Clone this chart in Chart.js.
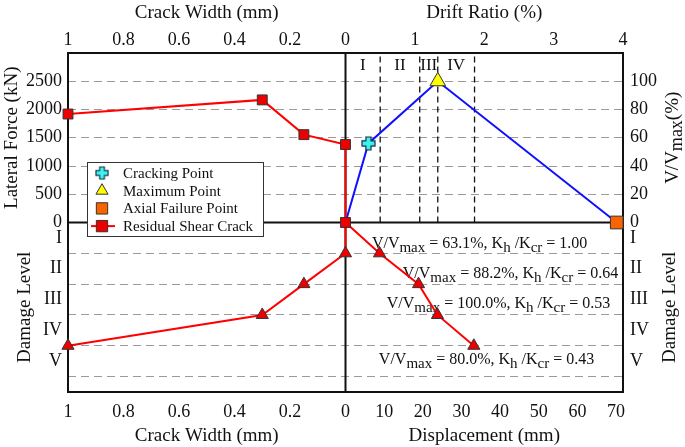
<!DOCTYPE html>
<html>
<head>
<meta charset="utf-8">
<script src="https://cdn.jsdelivr.net/npm/chart.js@4.4.1/dist/chart.umd.min.js"></script>
<style>
  html, body { margin: 0; padding: 0; background: #fff; }
</style>
</head>
<body>
<canvas id="chart" width="685" height="447"></canvas>
<script>
// ---- Tick labels ----
const crackTicks = [1, 0.8, 0.6, 0.4, 0.2, 0];
const driftTicks = [1, 2, 3, 4];
const dispTicks = [10, 20, 30, 40, 50, 60, 70];
const forceTicks = [0, 500, 1000, 1500, 2000, 2500];
const ratioTicks = [0, 20, 40, 60, 80, 100];
const damageLabels = ['I', 'II', 'III', 'IV', 'V'];

// ---- Series ----
// capacity curve (drift %, V/Vmax %)
const capDrift = [0, 0.33, 1.33, 3.91];
const capRatio = [0, 56, 100, 0];
const crackDrift = [0.33], crackRatio = [56];
const maxDrift = [1.33], maxRatio = [100];
const axialDrift = [3.91], axialRatio = [0];
// residual shear crack width vs lateral force
const resWidth = [1, 0.3, 0.15, 0, 0];
const resForce = [1920, 2170, 1555, 1380, 0];
// crack width vs damage level
const dmgWidth = [0, 0, 0.15, 0.3, 1];
const dmgLevelW = [0, 1, 2, 3, 4];
// displacement vs damage level
const dmgDisp = [0, 8.8, 18.9, 23.8, 33.2];
const dmgLevelD = [0, 1, 2, 3, 4];
// damage stage limits (drift %)
const stageDrift = [0.5, 1.07, 1.33, 1.86];
const stageNames = ['I', 'II', 'III', 'IV'];
// notes per damage level
const noteRatio = ['63.1', '88.2', '100.0', '80.0'];
const noteK = ['1.00', '0.64', '0.53', '0.43'];

// ---- Axis ranges (zero at the centre of the plot) ----
const FORCE_MAX = 3000, RATIO_MAX = 120, LEVEL_MAX = 5.5;
const DRIFT_MAX = 4, DISP_MAX = 71.8;

const SERIF = '"Liberation Serif", "Times New Roman", serif';
const GRID = '#9a9a9a';

const zip = (xs, ys) => xs.map((x, i) => ({ x: x, y: ys[i] }));

// top axis: crack width on the left, drift on the right (in crack-axis units)
const topVals = crackTicks.concat(driftTicks.map(d => -d / DRIFT_MAX));
const topLabels = crackTicks.map(String).concat(driftTicks.map(String));
const botVals = crackTicks.concat(dispTicks.map(d => -d / DISP_MAX));
const botLabels = crackTicks.map(String).concat(dispTicks.map(String));

// left axis: force above, damage levels below
const lvlF = FORCE_MAX / LEVEL_MAX;
const leftVals = [], leftLabels = [], leftGrid = [];
forceTicks.forEach(v => { leftVals.push(v); leftLabels.push(String(v)); leftGrid.push(v > 0 ? GRID : 'rgba(0,0,0,0)'); });
damageLabels.forEach((n, i) => {
  leftVals.push(-(i + 0.5) * lvlF); leftLabels.push(n); leftGrid.push('rgba(0,0,0,0)');
  leftVals.push(-(i + 1) * lvlF); leftLabels.push(''); leftGrid.push(GRID);
});
const lvlR = RATIO_MAX / LEVEL_MAX;
const rightVals = ratioTicks.concat(damageLabels.map((n, i) => -(i + 0.5) * lvlR));
const rightLabels = ratioTicks.map(String).concat(damageLabels);

function setTicks(vals) {
  return scale => { scale.ticks = vals.map(v => ({ value: v })); };
}

function plusMarker(size) {
  const c = document.createElement('canvas');
  c.width = c.height = size;
  const g = c.getContext('2d');
  const m = size / 2, a = size * 0.17, L = size / 2 - 1;
  g.beginPath();
  g.moveTo(m - a, m - L); g.lineTo(m + a, m - L); g.lineTo(m + a, m - a);
  g.lineTo(m + L, m - a); g.lineTo(m + L, m + a); g.lineTo(m + a, m + a);
  g.lineTo(m + a, m + L); g.lineTo(m - a, m + L); g.lineTo(m - a, m + a);
  g.lineTo(m - L, m + a); g.lineTo(m - L, m - a); g.lineTo(m - a, m - a);
  g.closePath();
  g.fillStyle = '#3ef2f2';
  g.fill();
  g.strokeStyle = '#123040';
  g.lineWidth = 1.2;
  g.stroke();
  return c;
}
const plusImg = plusMarker(15);

// text with subscripts: parts = [[text, isSub], ...]
function richWidth(ctx, parts, size) {
  let w = 0;
  parts.forEach(p => { ctx.font = (p[1] ? size - 1 : size) + 'px ' + SERIF; w += ctx.measureText(p[0]).width; });
  return w;
}
function drawRich(ctx, parts, x, y, size) {
  let cx = x;
  parts.forEach(p => {
    ctx.font = (p[1] ? size - 1 : size) + 'px ' + SERIF;
    ctx.fillText(p[0], cx, p[1] ? y + 4 : y);
    cx += ctx.measureText(p[0]).width;
  });
}

const stageLines = stageDrift.map(d => ({
  label: '', data: [{ x: d, y: 0 }, { x: d, y: RATIO_MAX }],
  xAxisID: 'xDrift', yAxisID: 'yRight',
  borderColor: '#111', borderWidth: 1.3, borderDash: [6, 4],
  pointRadius: 0, showLine: true, clip: false
}));

const decor = {
  id: 'decor',
  beforeDatasetsDraw(chart) {
    const ctx = chart.ctx, a = chart.chartArea, s = chart.scales;
    const x0 = s.xTop.getPixelForValue(0), y0 = s.yLeft.getPixelForValue(0);
    ctx.save();
    // notes under the lines
    ctx.fillStyle = '#111';
    ctx.textBaseline = 'middle';
    const notePos = [[34.7, 0.72], [42.7, 1.7], [39.6, 2.67], [36.5, 4.5]];
    noteRatio.forEach((r, i) => {
      const parts = [['V/V', 0], ['max', 1], [' = ' + r + '%, K', 0], ['h', 1], [' /K', 0], ['cr', 1], [' = ' + noteK[i], 0]];
      const w = richWidth(ctx, parts, 16);
      const cx = s.xDisp.getPixelForValue(notePos[i][0]);
      const cy = s.yDamage.getPixelForValue(notePos[i][1]);
      drawRich(ctx, parts, cx - w / 2, cy - 1, 16);
    });
    // frame and axis lines
    ctx.strokeStyle = '#111';
    ctx.lineWidth = 2;
    ctx.strokeRect(a.left, a.top, a.right - a.left, a.bottom - a.top);
    ctx.beginPath();
    ctx.moveTo(a.left, y0); ctx.lineTo(a.right, y0);
    ctx.moveTo(x0, a.top); ctx.lineTo(x0, a.bottom);
    ctx.stroke();
    ctx.restore();
  },
  afterDatasetsDraw(chart) {
    const ctx = chart.ctx, a = chart.chartArea, s = chart.scales;
    const x0 = s.xTop.getPixelForValue(0), y0 = s.yLeft.getPixelForValue(0);
    ctx.save();
    ctx.fillStyle = '#111';
    ctx.textAlign = 'center';
    ctx.textBaseline = 'middle';
    // stage names between the stage lines
    ctx.font = '17px ' + SERIF;
    stageNames.forEach((n, i) => {
      const lo = i === 0 ? 0 : stageDrift[i - 1];
      ctx.fillText(n, s.xDrift.getPixelForValue((lo + stageDrift[i]) / 2), a.top + 13);
    });
    // axis titles
    ctx.font = '19px ' + SERIF;
    const midL = (a.left + x0) / 2, midR = (x0 + a.right) / 2;
    ctx.fillText('Crack Width (mm)', midL, 13);
    ctx.fillText('Drift Ratio (%)', midR, 13);
    ctx.fillText('Crack Width (mm)', midL, 436);
    ctx.fillText('Displacement (mm)', midR, 436);
    const midT = (a.top + y0) / 2, midB = (y0 + a.bottom) / 2;
    const vtext = (t, x, y) => {
      ctx.save(); ctx.translate(x, y); ctx.rotate(-Math.PI / 2); ctx.fillText(t, 0, 0); ctx.restore();
    };
    vtext('Lateral Force (kN)', 12, midT);
    vtext('Damage Level', 25, midB);
    vtext('Damage Level', 670, midB);
    ctx.save();
    ctx.translate(673, midT); ctx.rotate(-Math.PI / 2);
    ctx.textAlign = 'left';
    const vp = [['V/V', 0], ['max', 1], ['(%)', 0]];
    drawRich(ctx, vp, -richWidth(ctx, vp, 19) / 2, 0, 19);
    ctx.restore();

    // legend box
    const lx = 87, ly = 162, lw = 176, lh = 74;
    ctx.fillStyle = '#fff';
    ctx.fillRect(lx, ly, lw, lh);
    ctx.strokeStyle = '#333';
    ctx.lineWidth = 1;
    ctx.strokeRect(lx + 0.5, ly + 0.5, lw, lh);
    const ds = chart.data.datasets;
    const items = [ds[0], ds[1], ds[2], ds[3]];
    ctx.textAlign = 'left';
    ctx.font = '15px ' + SERIF;
    items.forEach((d, i) => {
      const ry = ly + 11 + i * 17.7, mx = lx + 15;
      if (d.showLine) {
        ctx.strokeStyle = d.borderColor; ctx.lineWidth = 2;
        ctx.beginPath(); ctx.moveTo(lx + 4, ry); ctx.lineTo(lx + 28, ry); ctx.stroke();
      }
      if (d.pointStyle instanceof HTMLCanvasElement) {
        ctx.drawImage(d.pointStyle, mx - 7, ry - 7, 14, 14);
      } else {
        ctx.fillStyle = d.pointBackgroundColor;
        ctx.strokeStyle = d.pointBorderColor;
        ctx.lineWidth = 1;
        Chart.helpers.drawPoint(ctx, { pointStyle: d.pointStyle, radius: d.legendRadius, rotation: 0, borderWidth: 1 }, mx, ry);
      }
      ctx.fillStyle = '#111';
      ctx.fillText(d.label, lx + 36, ry + 1);
    });
    ctx.restore();
  }
};

const tickFont = { family: SERIF, size: 18 };

new Chart(document.getElementById('chart'), {
  type: 'scatter',
  data: {
    datasets: [
      { label: 'Cracking Point', data: zip(crackDrift, crackRatio), xAxisID: 'xDrift', yAxisID: 'yRight',
        pointStyle: plusImg, pointRadius: 7, showLine: false, clip: false },
      { label: 'Maximum Point', data: zip(maxDrift, maxRatio), xAxisID: 'xDrift', yAxisID: 'yRight',
        pointStyle: 'triangle', pointRadius: 9, legendRadius: 7, pointBackgroundColor: '#ffff00',
        pointBorderColor: '#333', pointBorderWidth: 1, showLine: false, clip: false },
      { label: 'Axial Failure Point', data: zip(axialDrift, axialRatio), xAxisID: 'xDrift', yAxisID: 'yRight',
        pointStyle: 'rect', pointRadius: 9, legendRadius: 8, pointBackgroundColor: '#f86400',
        pointBorderColor: '#333', pointBorderWidth: 1, showLine: false, clip: false },
      { label: 'Residual Shear Crack', data: zip(resWidth, resForce), xAxisID: 'xTop', yAxisID: 'yLeft',
        pointStyle: 'rect', pointRadius: 7, legendRadius: 8, pointBackgroundColor: '#ee0000',
        pointBorderColor: '#333', pointBorderWidth: 1, borderColor: '#ff0000', borderWidth: 2,
        showLine: true, clip: false },
      { label: '', data: zip(dmgWidth, dmgLevelW), xAxisID: 'xTop', yAxisID: 'yDamage',
        pointStyle: 'triangle', pointRadius: [0, 7, 7, 7, 7], pointBackgroundColor: '#ee0000',
        pointBorderColor: '#333', pointBorderWidth: 1, borderColor: '#ff0000', borderWidth: 2,
        showLine: true, clip: false },
      { label: '', data: zip(dmgDisp, dmgLevelD), xAxisID: 'xDisp', yAxisID: 'yDamage',
        pointStyle: 'triangle', pointRadius: [0, 7, 7, 7, 7], pointBackgroundColor: '#ee0000',
        pointBorderColor: '#333', pointBorderWidth: 1, borderColor: '#ff0000', borderWidth: 2,
        showLine: true, clip: false },
      { label: '', data: zip(capDrift, capRatio), xAxisID: 'xDrift', yAxisID: 'yRight',
        pointRadius: 0, borderColor: '#1010ff', borderWidth: 2, showLine: true, clip: false },
      ...stageLines
    ]
  },
  options: {
    responsive: false,
    animation: false,
    layout: { padding: 0 },
    plugins: { legend: { display: false }, tooltip: { enabled: false } },
    scales: {
      xTop: {
        type: 'linear', position: 'top', min: -1, max: 1, reverse: true,
        afterBuildTicks: setTicks(topVals),
        afterFit: sc => { sc.height = 53; },
        ticks: { autoSkip: false, maxRotation: 0, padding: -6, color: '#111', font: tickFont,
          callback: (v, i) => topLabels[i] },
        grid: { display: false }, border: { display: false }
      },
      xBottom: {
        type: 'linear', position: 'bottom', min: -1, max: 1, reverse: true,
        afterBuildTicks: setTicks(botVals),
        afterFit: sc => { sc.height = 55; },
        ticks: { autoSkip: false, maxRotation: 0, padding: 1, color: '#111', font: tickFont,
          callback: (v, i) => botLabels[i] },
        grid: { display: false }, border: { display: false }
      },
      xDrift: { type: 'linear', display: false, min: -DRIFT_MAX, max: DRIFT_MAX },
      xDisp: { type: 'linear', display: false, min: -DISP_MAX, max: DISP_MAX },
      yLeft: {
        type: 'linear', position: 'left', min: -FORCE_MAX, max: FORCE_MAX,
        afterBuildTicks: setTicks(leftVals),
        afterFit: sc => { sc.width = 68; },
        ticks: { autoSkip: false, padding: 6, color: '#111', font: tickFont,
          callback: (v, i) => leftLabels[i] },
        grid: { drawTicks: false, lineWidth: 1, color: c => leftGrid[c.index] },
        border: { display: false, dash: [8, 5] }
      },
      yRight: {
        type: 'linear', position: 'right', min: -RATIO_MAX, max: RATIO_MAX,
        afterBuildTicks: setTicks(rightVals),
        afterFit: sc => { sc.width = 62; },
        ticks: { autoSkip: false, padding: -1, color: '#111', font: tickFont,
          callback: (v, i) => rightLabels[i] },
        grid: { display: false }, border: { display: false }
      },
      yDamage: { type: 'linear', display: false, min: -LEVEL_MAX, max: LEVEL_MAX, reverse: true }
    }
  },
  plugins: [decor]
});
</script>
</body>
</html>
